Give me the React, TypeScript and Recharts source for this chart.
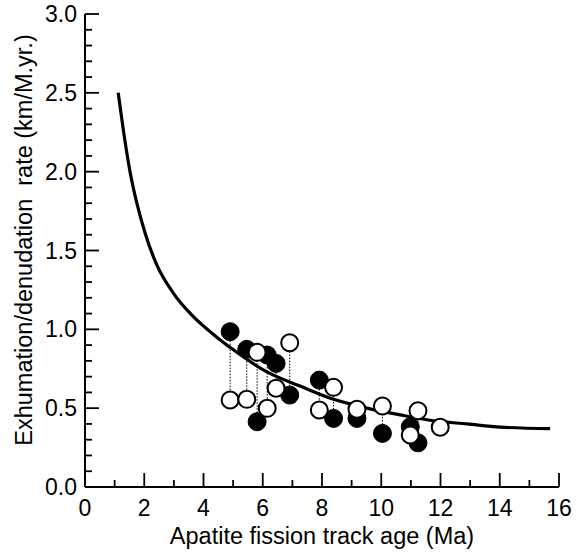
import React from "react";
import {
  ComposedChart,
  Line,
  Scatter,
  XAxis,
  YAxis,
} from "recharts";

// ─── Data ─────────────────────────────────────────────────────────
// paired samples: solid = filled circles, open = hollow circles
const sampleAge = [4.9, 5.46, 5.81, 6.15, 6.45, 6.91, 7.91, 8.39, 9.18, 10.04, 10.98, 11.24, 11.99];
const solidRate = [0.985, 0.873, 0.414, 0.837, 0.784, 0.583, 0.678, 0.435, 0.435, 0.34, 0.382, 0.28, null];
const openRate = [0.552, 0.556, 0.854, 0.499, 0.626, 0.915, 0.488, 0.632, 0.493, 0.514, 0.33, 0.484, 0.379];

// model curve
const curveAge = [1.12, 1.29, 1.52, 1.75, 2.03, 2.42, 2.98, 3.66, 4.45, 5.01, 6.14, 7.26, 8.39, 9.52, 10.64, 11.77, 12.9, 14.02, 15.7];
const curveRate = [2.5, 2.27, 2.0, 1.8, 1.61, 1.41, 1.23, 1.08, 0.95, 0.87, 0.73, 0.64, 0.556, 0.5, 0.457, 0.42, 0.4, 0.38, 0.37];

const xTicks = [0, 1, 2, 3, 4, 5, 6, 7, 8, 9, 10, 11, 12, 13, 14, 15, 16];
const yTicks = [0, 0.1, 0.2, 0.3, 0.4, 0.5, 0.6, 0.7, 0.8, 0.9, 1, 1.1, 1.2, 1.3, 1.4, 1.5, 1.6, 1.7, 1.8, 1.9, 2, 2.1, 2.2, 2.3, 2.4, 2.5, 2.6, 2.7, 2.8, 2.9, 3];

const FONT = "'Liberation Sans', Arial, Helvetica, sans-serif";

const curveData = curveAge.map((x, i) => ({ x, y: curveRate[i] }));
const solidData = sampleAge
  .map((x, i) => ({ x, y: solidRate[i] }))
  .filter((d) => d.y != null);
const openData = sampleAge.map((x, i) => ({ x, y: openRate[i] }));

// dotted tie lines between the two values of one sample (null breaks the line)
const tieData = sampleAge.flatMap((x, i) =>
  solidRate[i] == null
    ? []
    : [
        { x, y: solidRate[i] },
        { x, y: openRate[i] },
        { x, y: null },
      ]
);

const isMajor = (v: number, step: number) => Math.abs(v / step - Math.round(v / step)) < 1e-6;

// with tickSize/tickMargin 0 the tick gets the axis-line position; marks point inward
function XTick({ x, y, payload }: any) {
  const major = isMajor(payload.value, 2);
  return (
    <g>
      <line x1={x} x2={x} y1={y} y2={y - (major ? 14 : 7)} stroke="#000" strokeWidth={1.8} />
      {major && (
        <text x={x} y={y + 29} textAnchor="middle" fontFamily={FONT} fontSize={23} fill="#000">
          {payload.value}
        </text>
      )}
    </g>
  );
}

function YTick({ x, y, payload }: any) {
  const major = isMajor(payload.value, 0.5);
  return (
    <g>
      <line x1={x} x2={x + (major ? 14 : 7)} y1={y} y2={y} stroke="#000" strokeWidth={1.8} />
      {major && (
        <text x={x - 8} y={y + 8} textAnchor="end" fontFamily={FONT} fontSize={23} fill="#000">
          {payload.value.toFixed(1)}
        </text>
      )}
    </g>
  );
}

const solidDot = (p: any) => <circle cx={p.cx} cy={p.cy} r={9} fill="#000" stroke="#000" strokeWidth={1} />;
const openDot = (p: any) => <circle cx={p.cx} cy={p.cy} r={8.5} fill="#fff" stroke="#000" strokeWidth={2} />;

export default function App() {
  return (
    <div style={{ position: "absolute", left: 0, top: 0, background: "#fff" }}>
      <ComposedChart width={584} height={554} margin={{ top: 14, right: 25, bottom: 0, left: 0 }}>
        <XAxis
          type="number"
          dataKey="x"
          domain={[0, 16]}
          ticks={xTicks}
          interval={0}
          height={67}
          tickSize={0}
          tickMargin={0}
          tickLine={false}
          tick={<XTick />}
          axisLine={{ stroke: "#000", strokeWidth: 2 }}
          label={{
            content: ({ viewBox }: any) => (
              <text
                x={viewBox.x + viewBox.width / 2}
                y={544}
                textAnchor="middle"
                fontFamily={FONT}
                fontSize={23.5}
                fill="#000"
              >
                Apatite fission track age (Ma)
              </text>
            ),
          }}
        />
        <XAxis
          xAxisId="top"
          orientation="top"
          type="number"
          dataKey="x"
          domain={[0, 16]}
          height={0}
          tick={false}
          tickLine={false}
          axisLine={{ stroke: "#000", strokeWidth: 2 }}
        />
        <YAxis
          type="number"
          dataKey="y"
          domain={[0, 3]}
          ticks={yTicks}
          interval={0}
          width={85}
          tickSize={0}
          tickMargin={0}
          tickLine={false}
          tick={<YTick />}
          axisLine={{ stroke: "#000", strokeWidth: 2 }}
          label={{
            content: () => (
              <text
                x={32}
                y={240}
                transform="rotate(-90, 32, 240)"
                textAnchor="middle"
                fontFamily={FONT}
                fontSize={23.5}
                fill="#000"
                style={{ whiteSpace: "pre" }}
              >
                {"Exhumation/denudation  rate (km/M.yr.)"}
              </text>
            ),
          }}
        />
        <YAxis
          yAxisId="right"
          orientation="right"
          type="number"
          domain={[0, 3]}
          width={0}
          tick={false}
          tickLine={false}
          axisLine={{ stroke: "#000", strokeWidth: 2 }}
        />
        <Line
          data={tieData}
          dataKey="y"
          stroke="#000"
          strokeWidth={1}
          strokeDasharray="1.5 1.5"
          dot={false}
          activeDot={false}
          connectNulls={false}
          isAnimationActive={false}
        />
        <Line
          data={curveData}
          dataKey="y"
          type="monotone"
          stroke="#000"
          strokeWidth={3.2}
          dot={false}
          activeDot={false}
          isAnimationActive={false}
        />
        <Scatter data={solidData} dataKey="y" shape={solidDot} isAnimationActive={false} />
        <Scatter data={openData} dataKey="y" shape={openDot} isAnimationActive={false} />
      </ComposedChart>
    </div>
  );
}
